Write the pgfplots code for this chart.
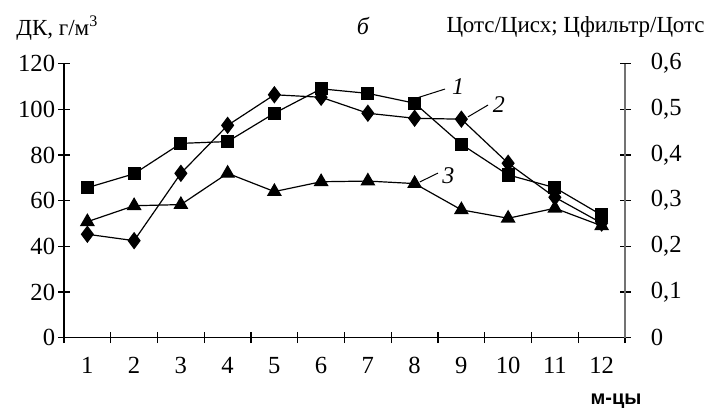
\documentclass[border=0pt]{standalone}
\usepackage{pgfplots}
\pgfplotsset{compat=1.18}
\usepackage{fontspec}
\setmainfont{Liberation Serif}
\setsansfont{Liberation Sans}

% monthly series: 1 - squares, 2 - diamonds (left axis, g/m3), 3 - triangles
\pgfplotstableread{
m  s1     s2     s3
1  65.7   45.3   50.8
2  71.8   42.5   57.8
3  85.1   72.0   58.3
4  85.9   93.0   72.0
5  98.3   106.4  64.0
6  109.0  105.3  68.3
7  107.0  98.3   68.6
8  102.7  96.1   67.5
9  84.7   95.7   56.0
10 71.3   76.4   52.3
11 65.7   61.5   56.7
12 53.7   50.2   49.0
}\datatab

\begin{document}
\fontsize{12}{14}\selectfont
\begin{tikzpicture}
\pgfplotsset{
  base/.style={
    scale only axis, width=280.5pt, height=137pt,
    xmin=0.5, xmax=12.5,
    tick align=center, major tick length=5.5pt,
    tick style={black, line width=0.6pt},
    /pgf/number format/assume math mode=true,
    ticklabel style={font=\fontsize{12.3}{14}\selectfont},
  }
}
\begin{axis}[base,
  axis x line=bottom, axis y line=left,
  axis line style={line width=0.6pt, -},
  ymin=0, ymax=120, ytick={0,20,...,120},
  xtick={0.5,1.5,...,12.5}, xticklabels={},
  extra x ticks={1,...,12},
  extra x tick labels={1,2,3,4,5,6,7,8,9,10,11,12},
  extra x tick style={major tick length=0pt,
    xticklabel style={anchor=base, yshift=-18pt}},
  yticklabel style={xshift=2.5pt},
  clip=false,
]
\addplot[black, line width=0.6pt, mark=square*, mark size=3pt]
  table[x=m, y=s1] {\datatab};
\addplot[black, line width=0.6pt, mark=diamond*, mark size=3.9pt]
  table[x=m, y=s2] {\datatab};
\addplot[black, line width=0.6pt, mark=triangle*, mark size=3.7pt]
  table[x=m, y=s3] {\datatab};

% series labels with leader lines
\draw[line width=0.5pt] (axis cs:8.05,105) -- (axis cs:8.65,108.9);
\node[font=\itshape] at (axis cs:8.93,109.8) {1};
\draw[line width=0.5pt] (axis cs:9.14,96.7) -- (axis cs:9.57,101.9);
\node[font=\itshape] at (axis cs:9.80,101.9) {2};
\draw[line width=0.5pt] (axis cs:8.11,68.2) -- (axis cs:8.50,72.1);
\node[font=\itshape] at (axis cs:8.72,70.8) {3};
\end{axis}

\begin{axis}[base,
  axis x line=none, axis y line=right,
  axis line style={line width=0.6pt, -, black!55},
  ymin=0, ymax=0.6, ytick={0,0.1,...,0.6},
  /pgf/number format/use comma,
  /pgf/number format/fixed,
  /pgf/number format/precision=1,
  yticklabel style={xshift=6pt},
]
\addplot[draw=none] coordinates {(1,0)};
\end{axis}

% titles
\node[anchor=west, font=\fontsize{11.5}{13}\selectfont] at (-28pt,154.9pt) {ДК, г/м\textsuperscript{3}};
\node[font=\itshape\fontsize{12}{14}\selectfont] at (149.5pt,156pt) {б};
\node[anchor=east, font=\fontsize{11.5}{13}\selectfont] at (324.5pt,155.5pt) {Цотс/Цисх; Цфильтр/Цотс};
\node[font=\sffamily\bfseries\fontsize{10}{12}\selectfont] at (276pt,-32pt) {м-цы};

\useasboundingbox (-32pt,-36.15pt) rectangle (326.5pt,168.85pt);
\end{tikzpicture}
\end{document}
